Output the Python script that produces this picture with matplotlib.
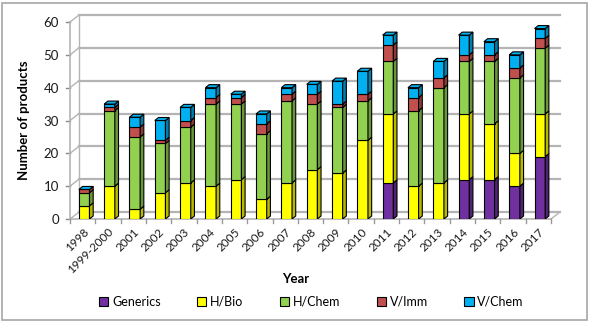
import matplotlib.pyplot as plt
import matplotlib.colors as mcolors
from matplotlib.patches import Patch, Polygon, Rectangle
import numpy as np

# Data
years = ['1998', '1999-2000', '2001', '2002', '2003', '2004', '2005', '2006', '2007',
         '2008', '2009', '2010', '2011', '2012', '2013', '2014', '2015', '2016', '2017']
generics = [0, 0, 0, 0, 0, 0, 0, 0, 0, 0, 0, 0, 11, 0, 0, 12, 12, 10, 19]
h_bio = [4, 10, 3, 8, 11, 10, 12, 6, 11, 15, 14, 24, 21, 10, 11, 20, 17, 10, 13]
h_chem = [4, 23, 22, 15, 17, 25, 23, 20, 25, 20, 20, 12, 16, 23, 29, 16, 19, 23, 20]
v_imm = [1, 1, 3, 1, 2, 2, 2, 3, 2, 3, 1, 2, 5, 4, 3, 2, 2, 3, 3]
v_chem = [0, 1, 3, 6, 4, 3, 1, 3, 2, 3, 7, 7, 3, 3, 5, 6, 4, 4, 3]

series = ['Generics', 'H/Bio', 'H/Chem', 'V/Imm', 'V/Chem']
values = [generics, h_bio, h_chem, v_imm, v_chem]
colors = ['#7030a0', '#ffff00', '#92d050', '#c0504d', '#00b0f0']

W, H = 591, 324
fig = plt.figure(figsize=(W / 100, H / 100), dpi=100)
plt.rcParams['font.family'] = ['Lato', 'DejaVu Sans']

# front plot area in pixels
x0, x1, y0, y1 = 70, 551, 219, 22
ax = fig.add_axes([x0 / W, 1 - y0 / H, (x1 - x0) / W, (y0 - y1) / H])
n = len(years)
ax.set_xlim(0, n)
ax.set_ylim(0, 60)
for s in ax.spines.values():
    s.set_visible(False)

ux = n / (x1 - x0)      # data units per pixel
uy = 60 / (y0 - y1)
gx, gy = 9 * ux, 7 * uy   # wall depth
grid_c = '#b4b4b4'

# back wall and floor
for v in range(0, 61, 10):
    ax.plot([gx, n + gx], [v + gy, v + gy], color=grid_c, lw=1.6, clip_on=False, zorder=1)
    ax.plot([0, gx], [v, v + gy], color=grid_c, lw=1.0, clip_on=False, zorder=1)
    ax.plot([-4 * ux, 0], [v, v], color='#888888', lw=1.0, clip_on=False, zorder=1)
ax.plot([0, 0], [0, 60], color=grid_c, lw=1.2, clip_on=False, zorder=1)
ax.plot([gx, gx], [gy, 60 + gy], color=grid_c, lw=1.0, clip_on=False, zorder=1)
ax.plot([0, n], [0, 0], color=grid_c, lw=1.2, clip_on=False, zorder=1)
ax.plot([n, n + gx], [0, gy], color=grid_c, lw=1.0, clip_on=False, zorder=1)
for i in range(n + 1):
    ax.plot([i, i], [0, -4 * uy], color='#999999', lw=1.0, clip_on=False, zorder=1)

# 3D-look stacked bars
bw = 0.42
sx, sy = 3.7 * ux, 3 * uy
xs = np.arange(n) + 0.5 + 0.06
bottom = np.zeros(n)
for vals, c in zip(values, colors):
    vals = np.array(vals, dtype=float)
    side = tuple(np.array(mcolors.to_rgb(c)) * 0.72)
    ax.bar(xs, vals, bw, bottom=bottom, color=c, edgecolor='black', lw=0.8, zorder=3)
    for x, b, v in zip(xs, bottom, vals):
        if v <= 0:
            continue
        r = x + bw / 2
        ax.add_patch(Polygon([(r, b), (r, b + v), (r + sx, b + v + sy), (r + sx, b + sy)],
                             closed=True, facecolor=side, edgecolor='black', lw=0.8, zorder=3))
    bottom += vals
for x, t in zip(xs, bottom):
    l, r = x - bw / 2, x + bw / 2
    ax.add_patch(Polygon([(l, t), (r, t), (r + sx, t + sy), (l + sx, t + sy)],
                         closed=True, facecolor=colors[-1], edgecolor='black', lw=0.8, zorder=4))

ax.set_yticks(range(0, 61, 10))
ax.tick_params(axis='y', length=0, pad=8, labelsize=9.5, labelcolor='#1a1a1a')
ax.set_xticks(np.arange(n) + 0.5)
ax.set_xticklabels(years, rotation=45, ha='right', rotation_mode='anchor')
ax.tick_params(axis='x', length=0, pad=5, labelsize=8.5, labelcolor='#1a1a1a')

ax.set_ylabel('Number of products', fontsize=9.5, fontweight='bold', labelpad=10)
fig.text(296 / W, 1 - 279 / H, 'Year', fontsize=9.5, fontweight='bold', ha='center', va='center')

handles = [Patch(facecolor=c, edgecolor='black', lw=0.8) for c in colors]
fig.legend(handles, series, loc='center', bbox_to_anchor=(0.527, 1 - 302 / H), ncol=5,
           frameon=False, fontsize=9, handlelength=0.75, handleheight=0.75,
           handletextpad=0.3, columnspacing=2.9)

# chart border
fig.patches.append(Rectangle((2 / W, 4 / H), 585 / W, 317 / H, transform=fig.transFigure,
                             fill=False, edgecolor='#a6a6a6', lw=1.2))

fig.savefig('out.png', dpi=100)
